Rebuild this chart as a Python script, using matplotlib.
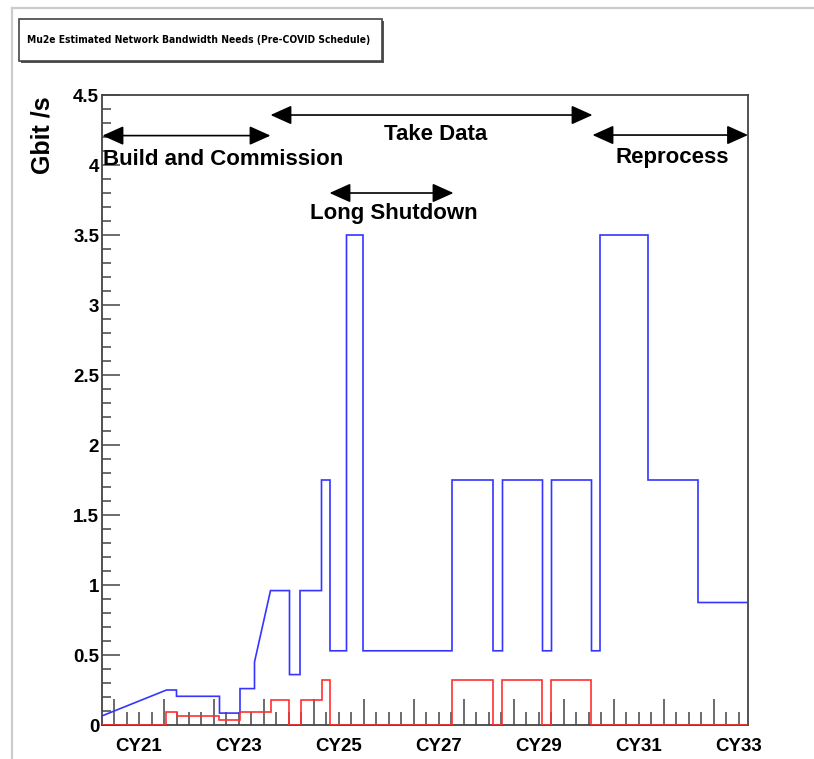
import matplotlib
matplotlib.use("Agg")
import matplotlib.pyplot as plt
from matplotlib import font_manager
from matplotlib.ticker import MultipleLocator, NullFormatter
from matplotlib.transforms import blended_transform_factory
from matplotlib.patches import FancyArrowPatch, Rectangle
from matplotlib.lines import Line2D

plt.rcParams['font.family'] = ['Liberation Sans', 'DejaVu Sans']

# ---------------- data ----------------
title = "Mu2e Estimated Network Bandwidth Needs (Pre-COVID Schedule)"
y_title = "Gbit /s"

# total bandwidth (blue) vertices: calendar time (years), Gbit/s
blue_t = [2020.76, 2022.05, 2022.25, 2022.25, 2023.11, 2023.11, 2023.52, 2023.52,
          2023.81, 2023.81, 2024.13, 2024.51, 2024.51, 2024.72, 2024.72, 2025.15,
          2025.15, 2025.32, 2025.32, 2025.65, 2025.65, 2025.98, 2025.98, 2027.76,
          2027.76, 2028.58, 2028.58, 2028.77, 2028.77, 2029.57, 2029.57, 2029.75,
          2029.75, 2030.55, 2030.55, 2030.72, 2030.72, 2031.68, 2031.68, 2032.68,
          2032.68, 2033.68]
blue_v = [0.065, 0.25, 0.25, 0.205, 0.205, 0.085, 0.085, 0.26,
          0.26, 0.45, 0.96, 0.96, 0.36, 0.36, 0.96, 0.96,
          1.75, 1.75, 0.53, 0.53, 3.5, 3.5, 0.53, 0.53,
          1.75, 1.75, 0.53, 0.53, 1.75, 1.75, 0.53, 0.53,
          1.75, 1.75, 0.53, 0.53, 3.5, 3.5, 1.75, 1.75,
          0.875, 0.875]

# second component (red) vertices
red_t = [2020.76, 2022.05, 2022.05, 2022.27, 2022.27, 2023.11, 2023.11, 2023.52,
         2023.52, 2024.13, 2024.13, 2024.51, 2024.51, 2024.73, 2024.73, 2025.16,
         2025.16, 2025.32, 2025.32, 2027.76, 2027.76, 2028.58, 2028.58, 2028.77,
         2028.77, 2029.57, 2029.57, 2029.75, 2029.75, 2030.55, 2030.55, 2033.68]
red_v = [0.0, 0.0, 0.09, 0.09, 0.065, 0.065, 0.035, 0.035,
         0.09, 0.09, 0.18, 0.18, 0.0, 0.0, 0.18, 0.18,
         0.325, 0.325, 0.0, 0.0, 0.325, 0.325, 0.0, 0.0,
         0.325, 0.325, 0.0, 0.0, 0.325, 0.325, 0.0, 0.0]

# x labels (centred on the calendar year)
x_label_years = [2021, 2023, 2025, 2027, 2029, 2031, 2033]
x_labels = ["CY21", "CY23", "CY25", "CY27", "CY29", "CY31", "CY33"]

# phase annotations
phase_names = ["Build and Commission", "Take Data", "Long Shutdown", "Reprocess"]
phase_start = [2020.77, 2024.13, 2025.31, 2030.57]
phase_end = [2024.13, 2030.57, 2027.79, 2033.68]
phase_arrow_y = [4.21, 4.357, 3.80, 4.214]
phase_text_x = [2020.79, 2027.43, 2026.59, 2032.16]
phase_text_y = [4.04, 4.22, 3.65, 4.05]
phase_text_ha = ["left", "center", "center", "center"]

x_min, x_max = 2020.76, 2033.68
y_min, y_max = 0.0, 4.5

# ---------------- pick a narrow font for the title if one exists ----------------
title_family = None
title_stretch = "normal"
for fam, stretch in [("Liberation Sans Narrow", "normal"),
                     ("DejaVu Sans", "condensed"),
                     ("Roboto Condensed", "normal"),
                     ("Open Sans Condensed", "normal"),
                     ("Open Sans", "condensed"),
                     ("Roboto", "condensed")]:
    try:
        fp = font_manager.FontProperties(family=fam, stretch=stretch, weight="bold")
        path = font_manager.findfont(fp, fallback_to_default=False)
        if "narrow" in path.lower() or "condensed" in path.lower():
            title_family, title_stretch = fam, stretch
            break
    except Exception:
        pass

# ---------------- figure ----------------
W, H = 814, 759
fig = plt.figure(figsize=(W / 100, H / 100), dpi=100)
ax = fig.add_axes([102 / W, (H - 725) / H, (748 - 102) / W, (725 - 95) / H])

ax.plot(blue_t, blue_v, color="#3535ff", lw=1.2, solid_joinstyle="miter", zorder=3)
ax.plot(red_t, red_v, color="#ff3030", lw=1.2, solid_joinstyle="miter", zorder=3)

ax.set_xlim(x_min, x_max)
ax.set_ylim(y_min, y_max)

for s in ax.spines.values():
    s.set_color("#444444")
    s.set_linewidth(1.3)

# x ticks: year boundaries (long) and quarters (short), inward
ax.xaxis.set_major_locator(MultipleLocator(1.0))
ax.xaxis.set_minor_locator(MultipleLocator(0.25))
ax.xaxis.set_major_formatter(NullFormatter())
ax.tick_params(axis="x", which="major", direction="in", length=19, width=1.1,
               color="#444444", top=False)
ax.tick_params(axis="x", which="minor", direction="in", length=9.5, width=1.1,
               color="#444444", top=False)

# y ticks
ax.yaxis.set_minor_locator(MultipleLocator(0.1))
ax.set_yticks([0, 0.5, 1, 1.5, 2, 2.5, 3, 3.5, 4, 4.5])
ax.set_yticklabels(["0", "0.5", "1", "1.5", "2", "2.5", "3", "3.5", "4", "4.5"],
                   fontsize=13.5, fontweight="bold")
ax.tick_params(axis="y", which="major", direction="in", length=13, width=1.1,
               color="#444444", pad=2, right=False)
ax.tick_params(axis="y", which="minor", direction="in", length=6.5, width=1.1,
               color="#444444", right=False)

trans = blended_transform_factory(ax.transData, ax.transAxes)
for yr, lab in zip(x_label_years, x_labels):
    ax.text(yr + 0.5, -0.034, lab, transform=trans, ha="center", va="center",
            fontsize=13.5, fontweight="bold")

# y axis title at top end
fig.text(42 / W, 1 - 96 / H, y_title, rotation=90, ha="center", va="top",
         fontsize=18, fontweight="bold")

# phase arrows
for name, x0, x1, ya, tx, ty, ha in zip(phase_names, phase_start, phase_end,
                                        phase_arrow_y, phase_text_x, phase_text_y,
                                        phase_text_ha):
    arr = FancyArrowPatch((x0, ya), (x1, ya),
                          arrowstyle="<|-|>,head_length=1.0,head_width=0.45",
                          mutation_scale=13, color="black", lw=1.2,
                          shrinkA=0, shrinkB=0, zorder=5, clip_on=False)
    ax.add_patch(arr)
    ax.text(tx, ty, name, ha=ha, va="center", fontsize=16, fontweight="bold",
            zorder=6)

# title box (with shadow)
shadow = Rectangle((21 / W, 1 - 63 / H), (382 - 19) / W, (61 - 19) / H,
                   transform=fig.transFigure, facecolor="#555555",
                   edgecolor="none", zorder=1)
box = Rectangle((19 / W, 1 - 61 / H), (382 - 19) / W, (61 - 19) / H,
                transform=fig.transFigure, facecolor="white",
                edgecolor="#444444", lw=1.2, zorder=2)
fig.patches.extend([shadow, box])
if title_family is not None:
    fig.text(199 / W, 1 - 40 / H, title, ha="center", va="center", fontsize=7.4,
             fontweight="bold", family=[title_family, "DejaVu Sans"],
             fontstretch=title_stretch, zorder=3)
else:
    fig.text(199 / W, 1 - 40 / H, title, ha="center", va="center", fontsize=7.4,
             fontweight="bold", family=["Liberation Sans", "DejaVu Sans"], zorder=3)

# outer frame lines (top and left) of the canvas
fig.add_artist(Line2D([12 / W, 12 / W], [0, 1 - 8 / H], transform=fig.transFigure,
                      color="#cccccc", lw=1.6))
fig.add_artist(Line2D([12 / W, 1], [1 - 8 / H, 1 - 8 / H], transform=fig.transFigure,
                      color="#cccccc", lw=1.6))

fig.savefig("out.png", dpi=100)
